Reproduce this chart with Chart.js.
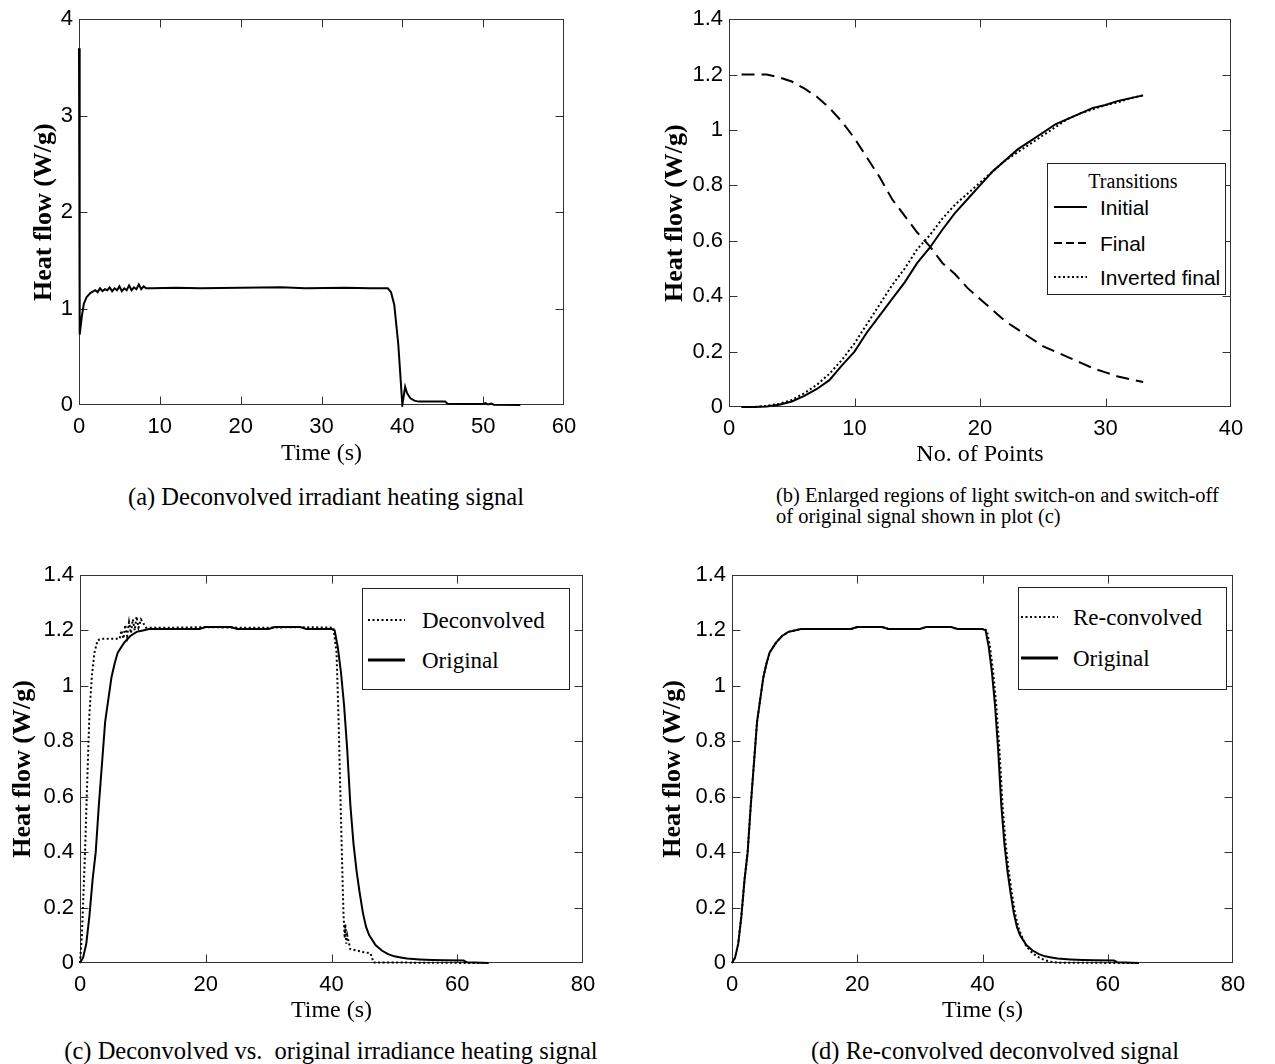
<!DOCTYPE html>
<html><head><meta charset="utf-8">
<script src="https://cdn.jsdelivr.net/npm/chart.js@4.4.1/dist/chart.umd.min.js"></script>
<style>
html,body{margin:0;padding:0;background:#fff;}
body{width:1275px;height:1064px;position:relative;overflow:hidden;}
canvas{position:absolute;}
.cap{position:absolute;font-family:'Liberation Serif','Times New Roman',serif;font-size:24.5px;color:#000;white-space:nowrap;line-height:1;transform:translateY(-50%);}
.cap.ctr{transform:translate(-50%,-50%);}
.leg{position:absolute;border:1px solid #222;background:#fff;box-sizing:border-box;}
.li{position:absolute;white-space:nowrap;line-height:1;transform:translateY(-50%);color:#000;}
.li.ctr{transform:translate(-50%,-50%);}
.sans{font-family:'Liberation Sans',Arial,sans-serif;font-size:21px;}
.serif{font-family:'Liberation Serif','Times New Roman',serif;font-size:23px;}
svg.s{position:absolute;overflow:visible;}
</style></head><body>
<canvas id="ca" width="637" height="470" style="left:0;top:0"></canvas>
<canvas id="cb" width="635" height="470" style="left:640px;top:0"></canvas>
<canvas id="cc" width="637" height="490" style="left:0;top:540px"></canvas>
<canvas id="cd" width="635" height="490" style="left:640px;top:540px"></canvas>

<div class="cap ctr" style="left:326px;top:497px">(a) Deconvolved irradiant heating signal</div>
<div class="cap" style="left:776px;top:495px;font-size:20.5px">(b) Enlarged regions of light switch-on and switch-off</div>
<div class="cap" style="left:776px;top:516px;font-size:20.5px">of original signal shown in plot (c)</div>
<div class="cap ctr" style="left:331px;top:1051px">(c) Deconvolved vs.&nbsp; original irradiance heating signal</div>
<div class="cap ctr" style="left:995px;top:1051px">(d) Re-convolved deconvolved signal</div>

<!-- legend (b) -->
<div class="leg" style="left:1047px;top:163px;width:179px;height:132px"></div>
<div class="li serif ctr" style="left:1133px;top:181px;font-size:20px">Transitions</div>
<svg class="s" style="left:1054px;top:200px" width="34" height="90">
  <line x1="0" y1="7" x2="33" y2="7" stroke="#000" stroke-width="2"/>
  <line x1="0" y1="43" x2="33" y2="43" stroke="#000" stroke-width="2" stroke-dasharray="8,4"/>
  <line x1="0" y1="77" x2="33" y2="77" stroke="#000" stroke-width="2" stroke-dasharray="2,2.5"/>
</svg>
<div class="li sans" style="left:1100px;top:207px">Initial</div>
<div class="li sans" style="left:1100px;top:243px">Final</div>
<div class="li sans" style="left:1100px;top:277px">Inverted final</div>

<!-- legend (c) -->
<div class="leg" style="left:362px;top:588px;width:208px;height:102px"></div>
<svg class="s" style="left:368px;top:610px" width="38" height="60">
  <line x1="0" y1="10" x2="37" y2="10" stroke="#000" stroke-width="2" stroke-dasharray="2,2.5"/>
  <line x1="0" y1="50" x2="37" y2="50" stroke="#000" stroke-width="3"/>
</svg>
<div class="li serif" style="left:422px;top:620px">Deconvolved</div>
<div class="li serif" style="left:422px;top:660px">Original</div>

<!-- legend (d) -->
<div class="leg" style="left:1018px;top:587px;width:209px;height:103px"></div>
<svg class="s" style="left:1021px;top:607px" width="38" height="60">
  <line x1="0" y1="10" x2="37" y2="10" stroke="#000" stroke-width="2" stroke-dasharray="2,2.5"/>
  <line x1="0" y1="51" x2="37" y2="51" stroke="#000" stroke-width="3"/>
</svg>
<div class="li serif" style="left:1073px;top:617px">Re-convolved</div>
<div class="li serif" style="left:1073px;top:658px">Original</div>

<script>
// ---------- Panel (a): deconvolved irradiant heating signal ----------
const aTime = [0, 0.05, 0.12, 0.35, 0.6, 0.95, 1.4, 2.0, 2.3, 2.6, 2.9, 3.2, 3.5, 3.8, 4.1, 4.4, 4.7, 5.0, 5.3, 5.6, 5.9, 6.2, 6.5, 6.8, 7.1, 7.4, 7.7, 8.0, 8.3, 9, 12, 15, 20, 25, 28, 33, 36, 38.2, 38.6, 39.0, 39.5, 40.0, 40.35, 40.6, 41.0, 41.5, 42, 45.3, 45.6, 50, 50.3, 50.6, 51, 51.3, 54.6];
const aHeat = [3.70, 1.40, 0.73, 0.92, 1.05, 1.12, 1.16, 1.19, 1.17, 1.21, 1.18, 1.20, 1.19, 1.22, 1.18, 1.21, 1.19, 1.23, 1.18, 1.21, 1.19, 1.24, 1.19, 1.22, 1.20, 1.25, 1.20, 1.23, 1.21, 1.21, 1.215, 1.21, 1.215, 1.22, 1.21, 1.215, 1.21, 1.21, 1.17, 1.04, 0.63, 0.0, 0.19, 0.12, 0.07, 0.045, 0.035, 0.035, 0.012, 0.01, 0.02, 0.005, 0.015, 0.003, 0.0];

// ---------- Panel (b): transitions ----------
const bPoints = [1,2,3,4,5,6,7,8,9,10,11,12,13,14,15,16,17,18,19,20,21,22,23,24,25,26,27,28,29,30,31,32,33];
const bInitial = [0, 0, 0.002, 0.008, 0.02, 0.04, 0.065, 0.097, 0.15, 0.2, 0.27, 0.33, 0.39, 0.45, 0.52, 0.575, 0.64, 0.70, 0.75, 0.80, 0.85, 0.89, 0.93, 0.96, 0.99, 1.02, 1.04, 1.06, 1.08, 1.09, 1.105, 1.115, 1.125];
const bFinal = [1.20, 1.20, 1.20, 1.19, 1.175, 1.15, 1.12, 1.08, 1.03, 0.97, 0.90, 0.83, 0.75, 0.69, 0.63, 0.58, 0.52, 0.48, 0.43, 0.39, 0.35, 0.31, 0.28, 0.25, 0.22, 0.20, 0.18, 0.16, 0.14, 0.125, 0.11, 0.10, 0.09];
const bInvertedFinal = [0, 0, 0.004, 0.012, 0.025, 0.05, 0.08, 0.12, 0.17, 0.23, 0.30, 0.37, 0.44, 0.50, 0.57, 0.62, 0.68, 0.73, 0.77, 0.81, 0.85, 0.89, 0.92, 0.95, 0.98, 1.01, 1.04, 1.06, 1.075, 1.09, 1.10, 1.115, 1.125];

// ---------- Panels (c) and (d) ----------
const origTime = [0, 0.5, 1, 1.5, 2, 2.5, 3, 3.5, 4, 4.5, 5, 5.5, 6, 7, 8, 9, 10, 11, 13, 16, 19, 20, 24, 25, 30, 31, 35, 36, 40, 40.5, 41, 41.5, 42, 42.5, 43, 43.5, 44, 44.5, 45, 45.5, 46, 47, 48, 49, 50, 51, 52, 54, 56, 58, 61, 61.5, 65];
const origHeat = [0, 0.02, 0.07, 0.17, 0.30, 0.40, 0.57, 0.72, 0.87, 0.95, 1.03, 1.08, 1.12, 1.155, 1.18, 1.195, 1.20, 1.205, 1.205, 1.205, 1.205, 1.212, 1.212, 1.205, 1.205, 1.212, 1.212, 1.205, 1.205, 1.20, 1.14, 1.05, 0.93, 0.77, 0.57, 0.43, 0.33, 0.25, 0.18, 0.13, 0.10, 0.065, 0.045, 0.032, 0.024, 0.02, 0.016, 0.013, 0.011, 0.01, 0.009, 0.003, 0.0];
const deconvTime = [0, 0.3, 0.8, 1.1, 1.5, 1.9, 2.3, 2.8, 3.5, 6.3, 6.6, 6.9, 7.2, 7.5, 7.8, 8.1, 8.4, 8.7, 9.0, 9.3, 9.7, 10.5, 15, 20, 25, 30, 35, 40.3, 40.8, 41.1, 41.4, 41.7, 41.9, 42.1, 42.2, 42.35, 42.5, 43.0, 44, 45, 46.2, 46.7, 64];
const deconvHeat = [0, 0.10, 0.40, 0.62, 0.90, 1.04, 1.12, 1.165, 1.17, 1.17, 1.20, 1.17, 1.22, 1.18, 1.23, 1.19, 1.24, 1.20, 1.25, 1.21, 1.24, 1.21, 1.21, 1.212, 1.21, 1.21, 1.212, 1.21, 1.12, 0.90, 0.62, 0.35, 0.18, 0.09, 0.14, 0.07, 0.10, 0.05, 0.045, 0.04, 0.035, 0.002, 0.0];
const reconvTime = [0, 0.5, 1, 1.5, 2, 2.5, 3, 3.5, 4, 4.5, 5, 5.5, 6, 7, 8, 9, 10, 11, 13, 16, 19, 20, 24, 25, 30, 31, 35, 36, 40.2, 40.7, 41.2, 41.7, 42.2, 42.7, 43.2, 43.7, 44.2, 44.7, 45.2, 45.7, 46.2, 47, 48, 49, 50, 51, 52, 65];
const reconvHeat = [0, 0.02, 0.07, 0.17, 0.30, 0.40, 0.57, 0.72, 0.87, 0.95, 1.03, 1.08, 1.12, 1.155, 1.18, 1.195, 1.20, 1.205, 1.205, 1.205, 1.205, 1.212, 1.212, 1.205, 1.205, 1.212, 1.212, 1.205, 1.205, 1.20, 1.14, 1.05, 0.93, 0.77, 0.57, 0.43, 0.33, 0.25, 0.18, 0.13, 0.10, 0.06, 0.035, 0.02, 0.01, 0.004, 0.001, 0.0];

// ---------- Tick values and labels ----------
const aXTicks = [0, 10, 20, 30, 40, 50, 60];
const aXLabels = ['0', '10', '20', '30', '40', '50', '60'];
const aYTicks = [0, 1, 2, 3, 4];
const aYLabels = ['0', '1', '2', '3', '4'];
const bXTicks = [0, 10, 20, 30, 40];
const bXLabels = ['0', '10', '20', '30', '40'];
const hfYTicks = [0, 0.2, 0.4, 0.6, 0.8, 1.0, 1.2, 1.4];
const hfYLabels = ['0', '0.2', '0.4', '0.6', '0.8', '1', '1.2', '1.4'];
const cdXTicks = [0, 20, 40, 60, 80];
const cdXLabels = ['0', '20', '40', '60', '80'];

const SANS = "'Liberation Sans', Arial, sans-serif";
const SERIF = "'Liberation Serif', 'Times New Roman', serif";

function pts(xs, ys) { return xs.map((x, i) => ({x: x, y: ys[i]})); }

const frameTicks = {
  id: 'frameTicks',
  beforeDatasetsDraw(chart) {
    const {ctx, chartArea: a} = chart;
    const x = chart.scales.x, y = chart.scales.y;
    const L = 8;
    ctx.save();
    ctx.strokeStyle = '#333';
    ctx.lineWidth = 1;
    const l = Math.round(a.left) + 0.5, r = Math.round(a.right) - 0.5;
    const t = Math.round(a.top) + 0.5, b = Math.round(a.bottom) - 0.5;
    ctx.strokeRect(l, t, r - l, b - t);
    ctx.beginPath();
    x.ticks.forEach(tk => {
      const p = Math.round(x.getPixelForValue(tk.value)) + 0.5;
      if (p <= l + 2 || p >= r - 2) return;
      ctx.moveTo(p, b); ctx.lineTo(p, b - L);
      ctx.moveTo(p, t); ctx.lineTo(p, t + L);
    });
    y.ticks.forEach(tk => {
      const p = Math.round(y.getPixelForValue(tk.value)) + 0.5;
      if (p <= t + 2 || p >= b - 2) return;
      ctx.moveTo(l, p); ctx.lineTo(l + L, p);
      ctx.moveTo(r, p); ctx.lineTo(r - L, p);
    });
    ctx.stroke();
    ctx.restore();
  }
};

function line(data, dash, width) {
  return {data: data, borderColor: '#000', backgroundColor: '#000', borderWidth: width || 2,
          borderDash: dash || [], pointRadius: 0, tension: 0, fill: false, clip: 2};
}

function make(id, c) {
  return new Chart(document.getElementById(id), {
    type: 'line',
    data: {datasets: c.datasets},
    plugins: [frameTicks],
    options: {
      responsive: false, animation: false, devicePixelRatio: 1,
      layout: {padding: {top: c.padTop, right: c.padRight, left: 0, bottom: 0}},
      plugins: {legend: {display: false}, tooltip: {enabled: false}},
      events: [],
      scales: {
        x: {
          type: 'linear', min: c.xTicks[0], max: c.xTicks[c.xTicks.length - 1],
          grid: {display: false, drawTicks: false}, border: {display: false},
          afterBuildTicks: s => { s.ticks = c.xTicks.map(v => ({value: v})); },
          afterFit: s => { s.height = c.xHeight; },
          ticks: {autoSkip: false, maxRotation: 0, padding: 9, color: '#000',
                  font: {family: SANS, size: 22}, callback: (v, i) => c.xLabels[i]},
          title: {display: true, text: c.xTitle, color: '#000',
                  font: {family: SERIF, size: 24}, padding: {top: 0, bottom: c.xTitlePad}}
        },
        y: {
          type: 'linear', min: c.yTicks[0], max: c.yTicks[c.yTicks.length - 1],
          grid: {display: false, drawTicks: false}, border: {display: false},
          afterBuildTicks: s => { s.ticks = c.yTicks.map(v => ({value: v})); },
          afterFit: s => { s.width = c.yWidth; },
          ticks: {autoSkip: false, padding: 6, color: '#000',
                  font: {family: SANS, size: 22}, callback: (v, i) => c.yLabels[i]},
          title: {display: true, text: 'Heat flow (W/g)', color: '#000',
                  font: {family: SERIF, size: 26, weight: 'bold'}, padding: {top: c.yTitlePad, bottom: 0}}
        }
      }
    }
  });
}

make('ca', {
  datasets: [line(pts(aTime, aHeat), [], 2)],
  xTicks: aXTicks, xLabels: aXLabels, yTicks: aYTicks, yLabels: aYLabels,
  xTitle: 'Time (s)', padTop: 17, padRight: 73, yWidth: 79, xHeight: 65, yTitlePad: 29, xTitlePad: 1.6
});
make('cb', {
  datasets: [
    line(pts(bPoints, bInitial), [], 2),
    line(pts(bPoints, bFinal), [13, 7], 2),
    line(pts(bPoints, bInvertedFinal), [2, 2.5], 2)
  ],
  xTicks: bXTicks, xLabels: bXLabels, yTicks: hfYTicks, yLabels: hfYLabels,
  xTitle: 'No. of Points', padTop: 18, padRight: 44, yWidth: 89, xHeight: 63, yTitlePad: 20, xTitlePad: 0.6
});
make('cc', {
  datasets: [
    line(pts(deconvTime, deconvHeat), [2, 2.5], 2),
    line(pts(origTime, origHeat), [], 2)
  ],
  xTicks: cdXTicks, xLabels: cdXLabels, yTicks: hfYTicks, yLabels: hfYLabels,
  xTitle: 'Time (s)', padTop: 35, padRight: 54, yWidth: 80, xHeight: 67, yTitlePad: 8, xTitlePad: 4.6
});
make('cd', {
  datasets: [
    line(pts(reconvTime, reconvHeat), [2, 2.5], 2),
    line(pts(origTime, origHeat), [], 2)
  ],
  xTicks: cdXTicks, xLabels: cdXLabels, yTicks: hfYTicks, yLabels: hfYLabels,
  xTitle: 'Time (s)', padTop: 35, padRight: 42, yWidth: 92, xHeight: 67, yTitlePad: 18, xTitlePad: 4.6
});
</script>
</body></html>
